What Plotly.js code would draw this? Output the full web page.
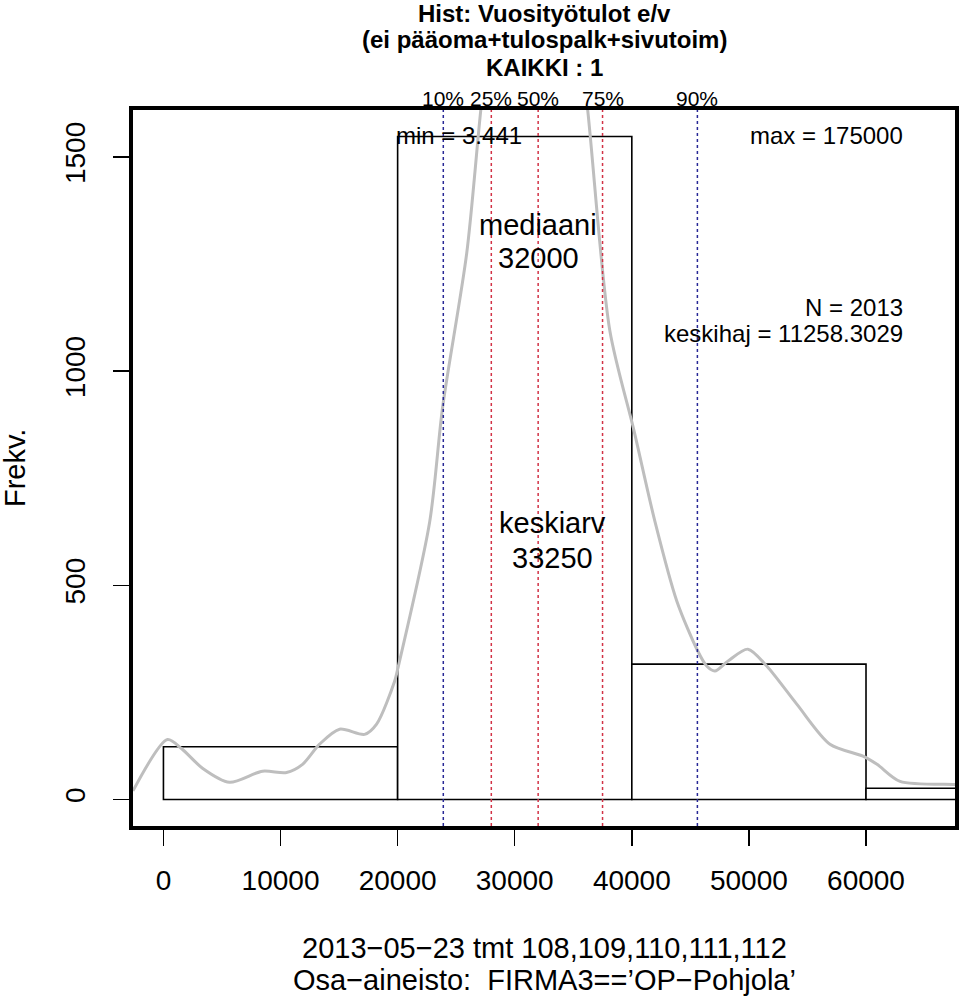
<!DOCTYPE html>
<html>
<head>
<meta charset="utf-8">
<script src="https://cdn.plot.ly/plotly-3.0.1.min.js"></script>
<style>html,body{margin:0;padding:0;background:#fff;}</style>
</head>
<body>
<div id="chart" style="width:960px;height:1002px;"></div>
<script>
// ---- data ----
const binStarts = [0, 20000, 40000, 60000];
const binWidth = 20000;
const binCounts = [123, 1548, 316, 26];

const densityX = [-2600, 342, 1538, 3333, 5641, 8462, 10513, 11880, 13333, 15043, 17179, 18205, 19744, 20000, 22735, 23846, 25897, 27094, 28500, 31700, 34800, 36239, 38120, 40171, 41966, 43846, 45641, 46410, 47094, 48205, 49915, 51538, 54103, 56923, 59744, 60940, 62906, 67436, 68000];
const densityY = [20, 140, 119, 73, 40, 66, 63, 82, 129, 164, 152, 176, 276, 304, 648, 917, 1275, 1608, 1950, 2250, 1950, 1608, 1095, 863, 650, 463, 346, 311, 300, 323, 351, 311, 222, 129, 101, 82, 42, 35, 34];

const pctLabels = ['10%', '25%', '50%', '75%', '90%'];
const pctValues = [23900, 28000, 32000, 37500, 45600];
const pctColors = ['rgb(40,40,150)', 'rgb(210,50,70)', 'rgb(210,50,70)', 'rgb(210,50,70)', 'rgb(40,40,150)'];

const xTicks = [0, 10000, 20000, 30000, 40000, 50000, 60000];
const yTicks = [0, 500, 1000, 1500];

const titleLines = ['Hist: Vuosityötulot e/v', '(ei pääoma+tulospalk+sivutoim)', 'KAIKKI : 1'];
const subLines = ['2013−05−23 tmt 108,109,110,111,112', 'Osa−aineisto:  FIRMA3==’OP−Pohjola’'];

// ---- build ----
const FONT = 'Liberation Sans, Arial, Helvetica, sans-serif';
const binCenters = binStarts.map(s => s + binWidth / 2);

const traces = [
  {
    type: 'bar',
    x: binCenters,
    y: binCounts,
    width: binStarts.map(() => binWidth),
    marker: {color: 'white', line: {color: 'black', width: 1.6}},
    hoverinfo: 'skip',
    showlegend: false
  },
  {
    type: 'scatter',
    mode: 'lines',
    x: densityX,
    y: densityY,
    line: {color: '#bebebe', width: 3, shape: 'spline', smoothing: 0.8},
    hoverinfo: 'skip',
    showlegend: false
  }
];

const shapes = pctValues.map((v, i) => ({
  type: 'line', xref: 'x', yref: 'paper', x0: v, x1: v, y0: 0, y1: 1,
  line: {color: pctColors[i], width: 1.5, dash: 'dot'}, layer: 'above'
}));

const annotations = [];
// title lines (positioned individually for R-like line spacing)
const titleShifts = [97, 71, 43];
titleLines.forEach((t, i) => {
  annotations.push({xref: 'paper', yref: 'paper', x: 0.5, y: 1, yshift: titleShifts[i], xanchor: 'center', yanchor: 'middle',
    text: '<b>' + t + '</b>', showarrow: false, font: {family: FONT, size: 24, color: 'black'}});
});
pctValues.forEach((v, i) => {
  annotations.push({xref: 'x', yref: 'paper', x: v, y: 1, yshift: 12, xanchor: 'center', yanchor: 'middle',
    text: pctLabels[i], showarrow: false, font: {family: FONT, size: 21, color: 'black'}});
});
function txt(x, y, t, anchor, size) {
  annotations.push({xref: 'x', yref: 'y', x: x, y: y, text: t, showarrow: false, xanchor: anchor, yanchor: 'middle',
    font: {family: FONT, size: size, color: 'black'}});
}
txt(19650, 1551, 'min = 3.441', 'left', 24);
txt(63333, 1551, 'max = 175000', 'right', 24);
txt(32000, 1341, 'mediaani', 'center', 29);
txt(32000, 1264, '32000', 'center', 29);
txt(63333, 1149, 'N = 2013', 'right', 24);
txt(63333, 1088, 'keskihaj = 11258.3029', 'right', 24);
txt(33250, 646, 'keskiarv', 'center', 29);
txt(33250, 564, '33250', 'center', 29);

subLines.forEach((t, i) => {
  annotations.push({xref: 'paper', yref: 'paper', x: 0.5, y: 0, yshift: -122 - 32 * i, xanchor: 'center', yanchor: 'middle',
    text: t, showarrow: false, font: {family: FONT, size: 29, color: 'black'}});
});
annotations.push({xref: 'paper', yref: 'paper', x: 0, y: 0.5, xshift: -118, xanchor: 'center', yanchor: 'middle',
  text: 'Frekv.', textangle: -90, showarrow: false, font: {family: FONT, size: 29, color: 'black'}});

const layout = {
  width: 960, height: 1002,
  margin: {l: 133, r: 5, t: 110, b: 176, pad: 0},
  paper_bgcolor: 'white', plot_bgcolor: 'white',
  font: {family: FONT, color: 'black'},
  bargap: 0,
  xaxis: {
    range: [-2600, 67600], tickvals: xTicks, ticktext: xTicks.map(String),
    showgrid: false, zeroline: false, showline: true, mirror: true, linecolor: 'black', linewidth: 4,
    ticks: 'outside', ticklen: 16, tickwidth: 1.5, tickcolor: 'black', ticklabelstandoff: 10,
    tickfont: {family: FONT, size: 28, color: 'black'}
  },
  yaxis: {
    range: [-62, 1610], tickvals: yTicks, ticktext: yTicks.map(String), tickangle: -90,
    showgrid: false, zeroline: false, showline: true, mirror: true, linecolor: 'black', linewidth: 4,
    ticks: 'outside', ticklen: 16, tickwidth: 1.5, tickcolor: 'black', ticklabelstandoff: 17,
    tickfont: {family: FONT, size: 28, color: 'black'}
  },
  shapes: shapes,
  annotations: annotations,
  showlegend: false
};

Plotly.newPlot('chart', traces, layout, {staticPlot: true});
</script>
</body>
</html>
